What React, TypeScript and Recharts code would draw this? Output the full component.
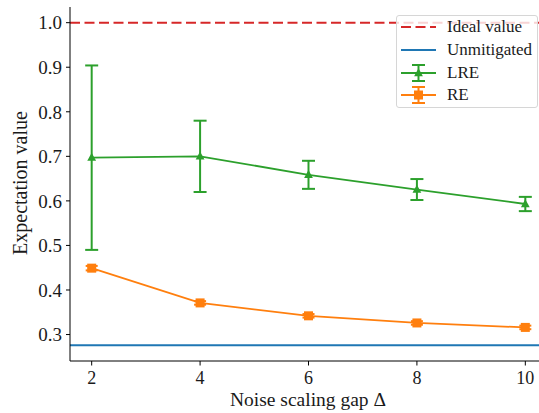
import React from "react";
import { ComposedChart, Line, XAxis, YAxis, ReferenceLine, ErrorBar } from "recharts";

const gaps = [2, 4, 6, 8, 10];
const lreMean = [0.697, 0.7, 0.6585, 0.6255, 0.593];
const lreErr = [0.207, 0.08, 0.0315, 0.0235, 0.016];
const reMean = [0.449, 0.371, 0.342, 0.326, 0.316];
const reErr = [0.005, 0.004, 0.004, 0.004, 0.004];
const idealValue = 1.0;
const unmitigatedValue = 0.276;
const xTicks = [2, 4, 6, 8, 10];
const yTicks = [0.3, 0.4, 0.5, 0.6, 0.7, 0.8, 0.9, 1.0];

const RED = "#d62728";
const BLUE = "#1f77b4";
const GREEN = "#2ca02c";
const ORANGE = "#ff7f0e";
const FONT = "Liberation Serif";
const INK = "#1a1a1a";

const data = gaps.map((g, i) => ({
  gap: g,
  lre: lreMean[i],
  lreErr: lreErr[i],
  re: reMean[i],
  reErr: reErr[i],
}));

function triangle(cx: number, cy: number, color: string) {
  return (
    <polygon
      points={`${cx},${cy - 4.8} ${cx + 4.4},${cy + 3.2} ${cx - 4.4},${cy + 3.2}`}
      fill={color}
    />
  );
}

function square(cx: number, cy: number, color: string) {
  return <rect x={cx - 4.5} y={cy - 4.5} width={9} height={9} fill={color} />;
}

const TriangleDot = (props: any) => {
  const { cx, cy, index } = props;
  if (cx == null || cy == null) return null;
  return <g key={`t${index}`}>{triangle(cx, cy, GREEN)}</g>;
};

const SquareDot = (props: any) => {
  const { cx, cy, index } = props;
  if (cx == null || cy == null) return null;
  return <g key={`s${index}`}>{square(cx, cy, ORANGE)}</g>;
};

function ErrHandle({ color, marker }: { color: string; marker: "tri" | "sq" }) {
  const cx = 21.5;
  const cy = 11;
  return (
    <svg width={40} height={22}>
      <line x1={4} x2={39} y1={cy} y2={cy} stroke={color} strokeWidth={2} />
      <line x1={cx} x2={cx} y1={cy - 8} y2={cy + 8} stroke={color} strokeWidth={2} />
      <line x1={cx - 6.5} x2={cx + 6.5} y1={cy - 8} y2={cy - 8} stroke={color} strokeWidth={2} />
      <line x1={cx - 6.5} x2={cx + 6.5} y1={cy + 8} y2={cy + 8} stroke={color} strokeWidth={2} />
      {marker === "tri" ? triangle(cx, cy, color) : square(cx, cy, color)}
    </svg>
  );
}

function LegendBox() {
  const rows: Array<{ label: string; handle: React.ReactNode }> = [
    {
      label: "Ideal value",
      handle: (
        <svg width={40} height={22}>
          <line x1={4} x2={39} y1={11} y2={11} stroke={RED} strokeWidth={2} strokeDasharray="10 4.5" />
        </svg>
      ),
    },
    {
      label: "Unmitigated",
      handle: (
        <svg width={40} height={22}>
          <line x1={4} x2={39} y1={11} y2={11} stroke={BLUE} strokeWidth={2.2} />
        </svg>
      ),
    },
    { label: "LRE", handle: <ErrHandle color={GREEN} marker="tri" /> },
    { label: "RE", handle: <ErrHandle color={ORANGE} marker="sq" /> },
  ];
  return (
    <div
      style={{
        position: "absolute",
        left: 396,
        top: 15,
        width: 142,
        height: 93,
        boxSizing: "border-box",
        border: "1px solid #d6d6d6",
        borderRadius: 3,
        background: "rgba(255,255,255,0.8)",
        fontFamily: FONT,
        fontSize: 17,
        color: INK,
      }}
    >
      {rows.map((r, i) => (
        <div
          key={r.label}
          style={{
            position: "absolute",
            left: 0,
            top: i * 22.8,
            height: 22,
            display: "flex",
            alignItems: "center",
            whiteSpace: "nowrap",
          }}
        >
          {r.handle}
          <span style={{ marginLeft: 10, fontFamily: FONT }}>{r.label}</span>
        </div>
      ))}
    </div>
  );
}

export default function App() {
  return (
    <div
      style={{
        position: "absolute",
        left: 0,
        top: 0,
        width: 539,
        height: 413,
        overflow: "hidden",
        background: "#fff",
        fontFamily: FONT,
      }}
    >
      <ComposedChart
        width={547}
        height={413}
        data={data}
        margin={{ top: 7, right: 0, bottom: 0, left: 0 }}
        style={{ fontFamily: FONT }}
      >
        <XAxis
          dataKey="gap"
          type="number"
          domain={[1.6, 10.4]}
          allowDataOverflow
          ticks={xTicks}
          height={52}
          tickSize={4.5}
          tickMargin={5.5}
          tick={{ fill: INK, fontSize: 18, fontFamily: FONT }}
          axisLine={{ stroke: "#000", strokeWidth: 1 }}
          tickLine={{ stroke: "#000", strokeWidth: 1 }}
          label={() => (
            <text x={308} y={406} textAnchor="middle" fill={INK} fontSize={19.5} fontFamily={FONT}>
              Noise scaling gap Δ
            </text>
          )}
        />
        <XAxis
          xAxisId="top"
          dataKey="gap"
          orientation="top"
          type="number"
          domain={[1.6, 10.4]}
          allowDataOverflow
          height={0}
          tick={false}
          tickLine={false}
          axisLine={{ stroke: "#000", strokeWidth: 1 }}
        />
        <YAxis
          type="number"
          domain={[0.2406, 1.0352]}
          allowDataOverflow
          ticks={yTicks}
          width={70}
          tickSize={4}
          tickMargin={4}
          tickFormatter={(v: number) => v.toFixed(1)}
          tick={{ fill: INK, fontSize: 19, fontFamily: FONT }}
          axisLine={{ stroke: "#000", strokeWidth: 1 }}
          tickLine={{ stroke: "#000", strokeWidth: 1 }}
          label={() => (
            <text
              x={20}
              y={183}
              transform="rotate(-90 20 183)"
              textAnchor="middle"
              dominantBaseline="central"
              fill={INK}
              fontSize={20}
              fontFamily={FONT}
            >
              Expectation value
            </text>
          )}
        />
        <ReferenceLine y={idealValue} stroke={RED} strokeWidth={2} strokeDasharray="10 4.5" />
        <ReferenceLine y={unmitigatedValue} stroke={BLUE} strokeWidth={2.2} />
        <Line
          dataKey="lre"
          stroke={GREEN}
          strokeWidth={1.8}
          dot={TriangleDot}
          activeDot={false}
          isAnimationActive={false}
          legendType="none"
        >
          <ErrorBar dataKey="lreErr" direction="y" width={6.5} stroke={GREEN} strokeWidth={2} />
        </Line>
        <Line
          dataKey="re"
          stroke={ORANGE}
          strokeWidth={1.8}
          dot={SquareDot}
          activeDot={false}
          isAnimationActive={false}
          legendType="none"
        >
          <ErrorBar dataKey="reErr" direction="y" width={6} stroke={ORANGE} strokeWidth={2} />
        </Line>
      </ComposedChart>
      <LegendBox />
    </div>
  );
}
